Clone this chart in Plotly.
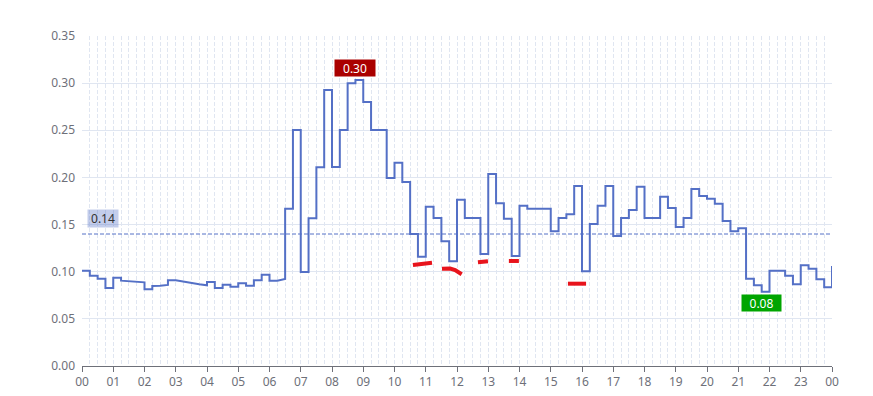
import datetime as dt
import numpy as np
import plotly.graph_objects as go

# ---------------- data ----------------
day_start = dt.datetime(2024, 1, 1, 0, 0)
step_minutes = 15

# value at the start of each 15-minute bin (00:00 ... 23:45)
values = [
    0.1010, 0.0958, 0.0926, 0.0827, 0.0937, 0.0905, 0.0900, 0.0895,   # 00:00-01:45
    0.0813, 0.0848, 0.0850, 0.0909, 0.0909, 0.0893, 0.0877, 0.0866,   # 02:00-03:45
    0.0891, 0.0827, 0.0862, 0.0841, 0.0877, 0.0852, 0.0909, 0.0969,   # 04:00-05:45
    0.0905, 0.0905, 0.1669, 0.2503, 0.0997, 0.1566, 0.2107, 0.2927,   # 06:00-07:45
    0.2110, 0.2503, 0.2998, 0.3033, 0.2800, 0.2503, 0.2503, 0.1994,   # 08:00-09:45
    0.2156, 0.1952, 0.1400, 0.1160, 0.1690, 0.1570, 0.1322, 0.1110,   # 10:00-11:45
    0.1764, 0.1570, 0.1570, 0.1188, 0.2036, 0.1725, 0.1563, 0.1167,   # 12:00-13:45
    0.1700, 0.1669, 0.1669, 0.1669, 0.1428, 0.1570, 0.1610, 0.1909,   # 14:00-15:45
    0.1004, 0.1506, 0.1700, 0.1909, 0.1379, 0.1570, 0.1655, 0.1900,   # 16:00-17:45
    0.1570, 0.1570, 0.1796, 0.1676, 0.1474, 0.1570, 0.1877, 0.1803,   # 18:00-19:45
    0.1775, 0.1722, 0.1538, 0.1428, 0.1460, 0.0926, 0.0856, 0.0788,   # 20:00-21:45
    0.1011, 0.1011, 0.0958, 0.0866, 0.1068, 0.1032, 0.0920, 0.0835,   # 22:00-23:45
]
final_value = 0.1060          # value at 24:00

# bins whose value drifts within the bin: {bin index: value at end of bin}
bin_end_drift = {5: 0.0900, 6: 0.0895, 7: 0.0887, 9: 0.0850, 10: 0.0860,
                 12: 0.0893, 13: 0.0877, 14: 0.0866, 15: 0.0856, 25: 0.0923}

mean_value = 0.14

# hand-drawn red marks: lists of (hour, value)
red_marks = [
    [(10.59, 0.1071), (11.20, 0.1096)],
    [(11.52, 0.1032), (11.78, 0.1034), (11.94, 0.1018), (12.15, 0.0973)],
    [(12.67, 0.1100), (12.99, 0.1110)],
    [(13.66, 0.1114), (13.98, 0.1114)],
    [(15.55, 0.0873), (16.13, 0.0873)],
]

# ---------------- style ----------------
LINE = "#5470c6"
GRID = "#E0E6F1"
AXIS = "#6E7079"
FONT = "Noto Sans"

def t_of(i):
    return day_start + dt.timedelta(minutes=step_minutes * i)

def t_hour(h):
    return day_start + dt.timedelta(hours=h)

# build the series path (value held over each bin, drifting where read so)
xs, ys = [], []
for i, v in enumerate(values):
    xs += [t_of(i), t_of(i + 1)]
    ys += [v, bin_end_drift.get(i, v)]
xs.append(t_of(len(values)))
ys.append(final_value)

fig = go.Figure()
fig.add_trace(go.Scatter(x=xs, y=ys, mode="lines", cliponaxis=False,
                         line=dict(color=LINE, width=2), hoverinfo="skip",
                         showlegend=False))

# mean line
fig.add_trace(go.Scatter(x=[t_of(0), t_of(len(values))], y=[mean_value, mean_value],
                         mode="lines", line=dict(color=LINE, width=1, dash="4px,2px"),
                         hoverinfo="skip", showlegend=False))

for mark in red_marks:
    fig.add_trace(go.Scatter(x=[t_hour(h) for h, _ in mark], y=[v for _, v in mark],
                             mode="lines", line=dict(color="#e8141c", width=4),
                             hoverinfo="skip", showlegend=False))

arr = np.array(values)
imax = int(arr.argmax())
imin = int(arr.argmin())

fig.add_annotation(x=t_of(imax), y=arr[imax], text=f"{arr[imax]:.2f}",
                   showarrow=False, yanchor="bottom", yshift=3,
                   width=38, height=14, align="center", valign="middle",
                   bgcolor="#aa0000", font=dict(color="white", size=12, family=FONT),
                   borderpad=1)
fig.add_annotation(x=t_of(imin), y=arr[imin], text=f"{arr[imin]:.2f}",
                   showarrow=False, yanchor="top", yshift=-2,
                   width=37, height=14, align="center", valign="middle",
                   bgcolor="#00a500", font=dict(color="white", size=12, family=FONT),
                   borderpad=1)
fig.add_annotation(x=0, xref="paper", y=mean_value, text=f"{mean_value:.2f}",
                   showarrow=False, xanchor="left", yanchor="bottom", xshift=5, yshift=6,
                   width=28, height=15, align="center", valign="middle",
                   bgcolor="rgba(84,112,198,0.35)", font=dict(color="#333", size=12, family=FONT),
                   borderpad=1)

fig.update_layout(
    width=873, height=396,
    margin=dict(l=82, r=41, t=36, b=30),
    paper_bgcolor="white", plot_bgcolor="white",
    font=dict(family=FONT, size=12, color=AXIS),
    showlegend=False,
)
fig.update_xaxes(
    type="date", range=[t_of(0), t_of(len(values))], automargin=False,
    tickformat="%H", dtick=3600000, tick0=t_of(0),
    showgrid=True, gridcolor=GRID, griddash="4px,2px", gridwidth=1,
    minor=dict(dtick=900000, showgrid=True, gridcolor=GRID, griddash="4px,2px", gridwidth=1),
    showline=True, linecolor=AXIS, linewidth=1,
    ticks="outside", ticklen=5, tickcolor=AXIS,
    tickfont=dict(color=AXIS, size=12), zeroline=False,
)
fig.update_yaxes(
    range=[0, 0.35], dtick=0.05, tickformat=".2f", automargin=False,
    showgrid=True, gridcolor=GRID, gridwidth=1,
    zeroline=False, showline=False, ticks="",
    tickfont=dict(color=AXIS, size=12), ticklabelstandoff=6,
)

fig.write_html("out.html")
